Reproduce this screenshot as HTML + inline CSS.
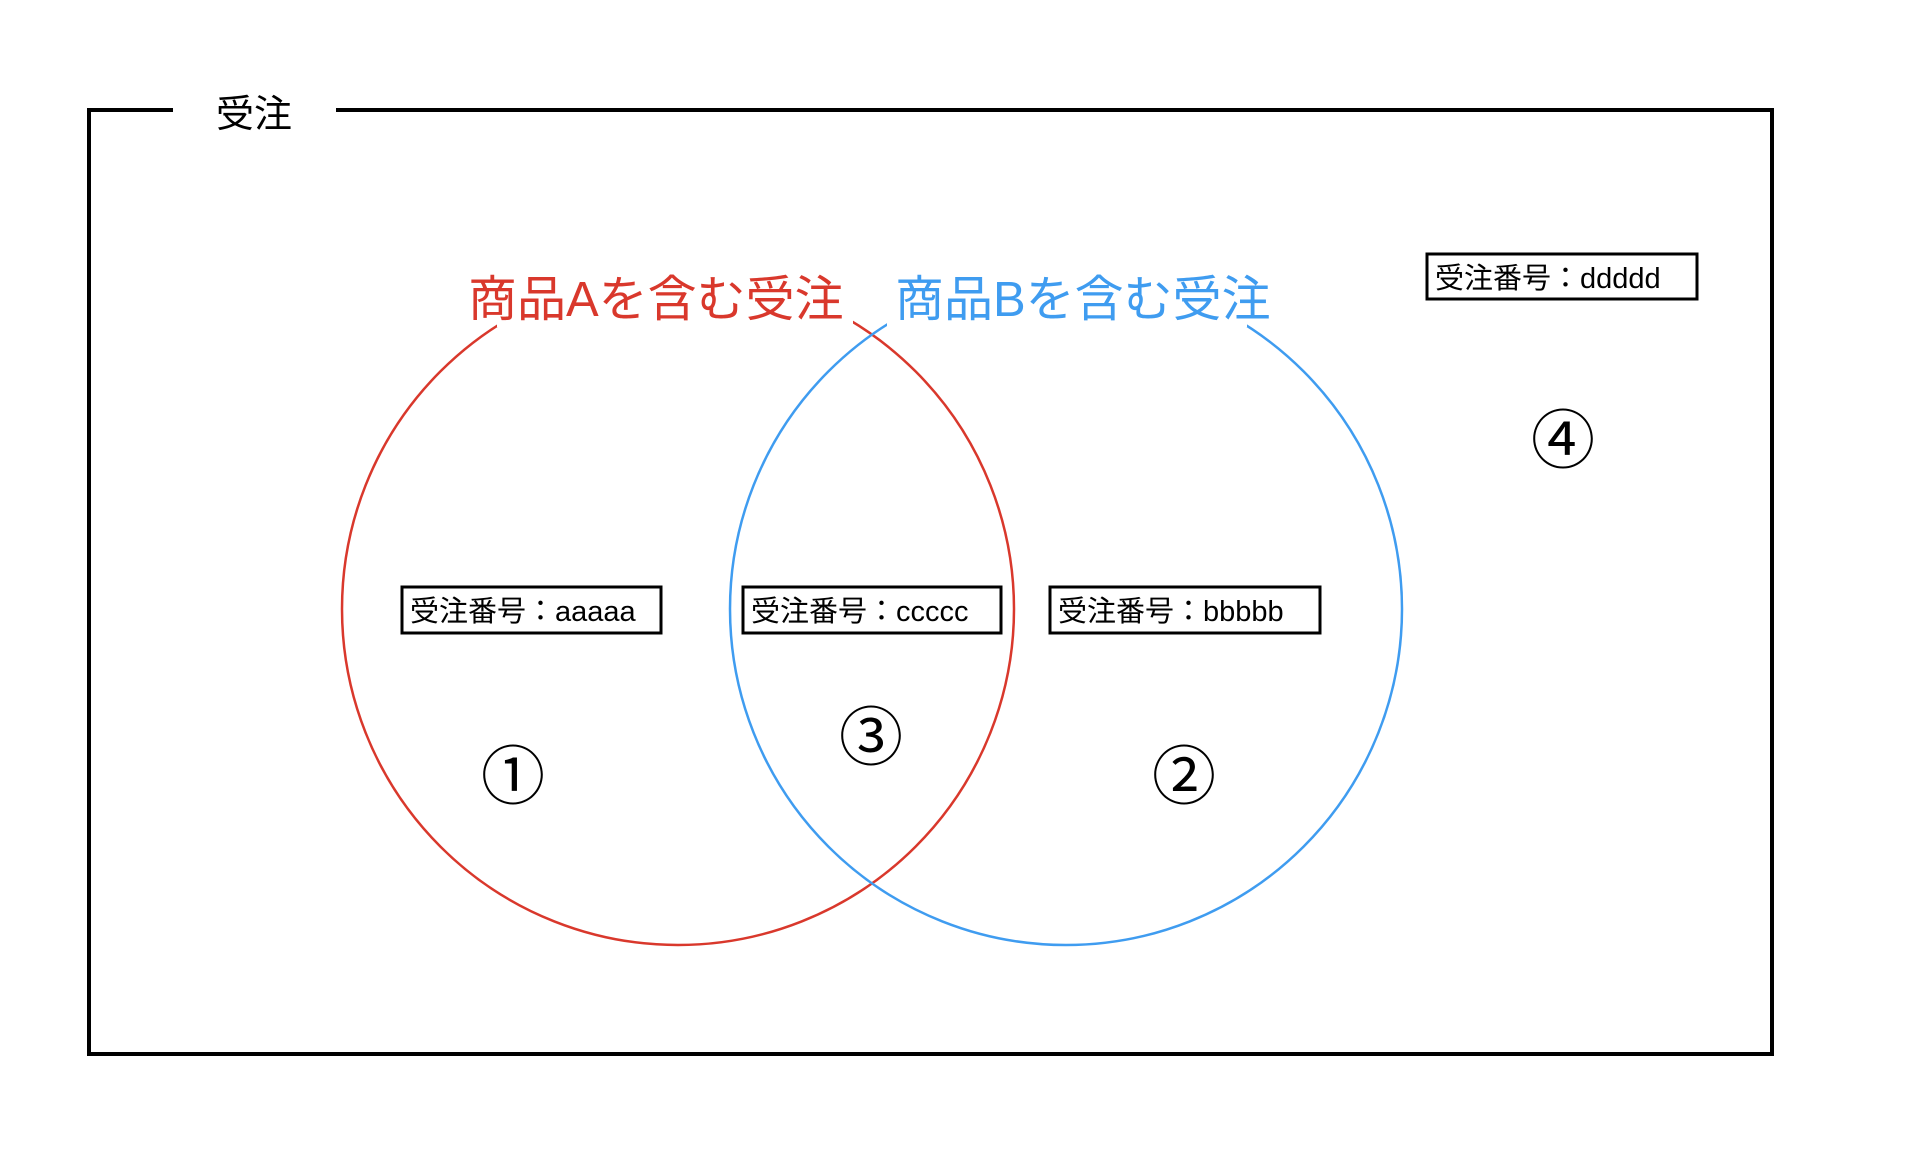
<!DOCTYPE html>
<html><head><meta charset="utf-8"><style>
html,body{margin:0;padding:0;background:#fff;}
svg{display:block;}
text{font-family:"Liberation Sans","Noto Sans CJK JP",sans-serif;}
</style></head><body>
<svg width="1932" height="1154" viewBox="0 0 1932 1154" xmlns="http://www.w3.org/2000/svg">
<rect x="0" y="0" width="1932" height="1154" fill="#fff"/>
<polyline points="173,110 89,110 89,1054 1772,1054 1772,110 336,110" fill="none" stroke="#000" stroke-width="4"/>
<text x="216" y="127" font-size="38" fill="#000">受注</text>
<circle cx="678" cy="609" r="336" fill="none" stroke="#d9382c" stroke-width="2.5"/>
<circle cx="1066" cy="609" r="336" fill="none" stroke="#3f9cf0" stroke-width="2.5"/>
<rect x="497" y="255" width="356" height="72" fill="#fff"/>
<rect x="887" y="255" width="360" height="72" fill="#fff"/>
<text x="468" y="316" font-size="49" fill="#d9382c">商品Aを含む受注</text>
<text x="895" y="316" font-size="49" fill="#3f9cf0">商品Bを含む受注</text>
<g font-size="29" fill="#000">
<rect x="402" y="587" width="259" height="46" fill="#fff" stroke="#000" stroke-width="3"/>
<text x="410" y="621">受注番号：aaaaa</text>
<rect x="743" y="587" width="258" height="46" fill="#fff" stroke="#000" stroke-width="3"/>
<text x="751" y="621">受注番号：ccccc</text>
<rect x="1050" y="587" width="270" height="46" fill="#fff" stroke="#000" stroke-width="3"/>
<text x="1058" y="621">受注番号：bbbbb</text>
<rect x="1427" y="254" width="270" height="45" fill="#fff" stroke="#000" stroke-width="3"/>
<text x="1435" y="288">受注番号：ddddd</text>
</g>
<g font-size="64" fill="#000" text-anchor="middle">
<text x="513" y="799">①</text>
<text x="871" y="760">③</text>
<text x="1184" y="799">②</text>
<text x="1563" y="463">④</text>
</g>
</svg>
</body></html>
